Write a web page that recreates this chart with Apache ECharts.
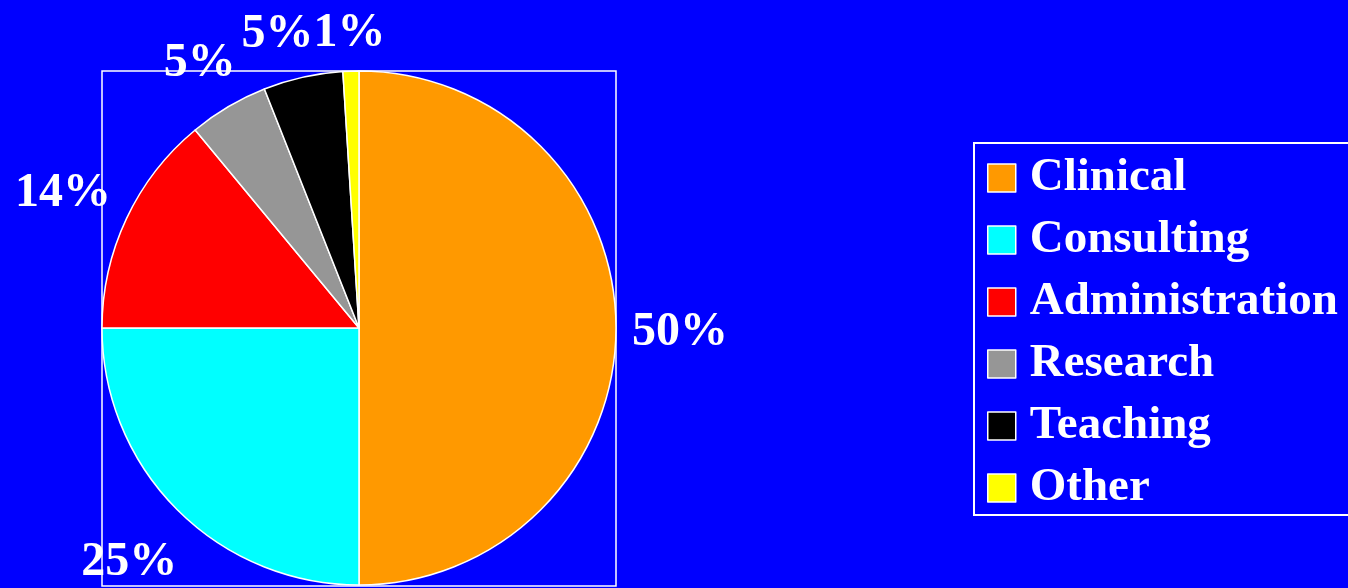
<!DOCTYPE html>
<html>
<head>
<meta charset="utf-8">
<title>Time allocation</title>
<script src="https://cdn.jsdelivr.net/npm/echarts@6/dist/echarts.min.js"></script>
<style>
  html, body { margin: 0; padding: 0; background: #0000ff; }
  #chart { width: 1348px; height: 588px; }
</style>
</head>
<body>
<div id="chart"></div>
<script>
// Share of working time by activity (percent)
const categories = ['Clinical', 'Consulting', 'Administration', 'Research', 'Teaching', 'Other'];
const shares = [50, 25, 14, 5, 5, 1];
const sliceColors = ['#ff9900', '#00ffff', '#ff0000', '#969696', '#000000', '#ffff00'];

// Pie geometry
const CX = 359, CY = 328, R = 257;
const LABEL_GAP = 16;
const FONT_FAMILY = '"Liberation Serif", "Times New Roman", serif';
const LABEL_SIZE = 48;
const LEGEND_SIZE = 47;
const BASELINE_SHIFT = 5; // digits sit low in the line box

const total = shares.reduce((a, b) => a + b, 0);

// Measure label text so labels can sit just outside the rim
const ctx = document.createElement('canvas').getContext('2d');
ctx.font = 'bold ' + LABEL_SIZE + 'px ' + FONT_FAMILY;
const labelTexts = shares.map(v => Math.round(v / total * 100) + '%');

// Place each label on the bisector of its slice, with its box touching
// a circle slightly larger than the pie
const labelPos = (function () {
  const out = [];
  let acc = 0;
  for (let i = 0; i < shares.length; i++) {
    const mid = (acc + shares[i] / 2) / total * Math.PI * 2; // clockwise from top
    acc += shares[i];
    const ux = Math.sin(mid), uy = -Math.cos(mid);
    const w = ctx.measureText(labelTexts[i]).width;
    const h = LABEL_SIZE * 1.05;
    const support = Math.abs(ux) * w / 2 + Math.abs(uy) * h / 2;
    const d = R + LABEL_GAP + support;
    out.push({ x: CX + ux * d, y: CY + uy * d + BASELINE_SHIFT, w: w, h: h });
  }
  // push neighbouring labels apart horizontally when they collide
  for (let i = out.length - 1; i > 0; i--) {
    const a = out[i - 1], b = out[i];
    const overlapX = (a.x + a.w / 2) - (b.x - b.w / 2);
    const overlapY = Math.abs(a.y - b.y) < (a.h + b.h) / 2;
    if (overlapX > 0 && overlapY && a.x < b.x) a.x -= overlapX;
  }
  return out;
})();

const chart = echarts.init(document.getElementById('chart'), null, { renderer: 'canvas' });

chart.setOption({
  backgroundColor: '#0000ff',
  animation: false,
  color: sliceColors,
  textStyle: { fontFamily: FONT_FAMILY },
  graphic: [{
    type: 'rect',
    z: 0,
    shape: { x: CX - R, y: CY - R, width: 2 * R, height: 2 * R + 1 },
    style: { fill: 'none', stroke: '#ffffff', lineWidth: 1.5 }
  }],
  legend: {
    orient: 'vertical',
    left: 974,
    top: 143,
    padding: [10, 30, 2, 13],
    itemGap: 12,
    itemWidth: 28,
    itemHeight: 28,
    icon: 'rect',
    borderColor: '#ffffff',
    borderWidth: 2,
    itemStyle: { borderColor: '#ffffff', borderWidth: 1.5 },
    textStyle: {
      color: '#ffffff',
      fontFamily: FONT_FAMILY,
      fontWeight: 'bold',
      fontSize: LEGEND_SIZE,
      lineHeight: 46,
      padding: [4, 0, 0, 9]
    },
    data: categories
  },
  series: [{
    type: 'pie',
    center: [CX, CY],
    radius: R,
    startAngle: 90,
    clockwise: true,
    avoidLabelOverlap: false,
    z: 2,
    itemStyle: { borderColor: '#ffffff', borderWidth: 1.5 },
    label: {
      show: true,
      position: 'outside',
      color: '#ffffff',
      fontFamily: FONT_FAMILY,
      fontWeight: 'bold',
      fontSize: LABEL_SIZE,
      formatter: p => labelTexts[p.dataIndex]
    },
    labelLine: { show: false },
    labelLayout: function (params) {
      const p = labelPos[params.dataIndex];
      return { x: p.x, y: p.y, align: 'center', verticalAlign: 'middle' };
    },
    emphasis: { disabled: true },
    data: categories.map((name, i) => ({ name: name, value: shares[i] }))
  }]
});
</script>
</body>
</html>
